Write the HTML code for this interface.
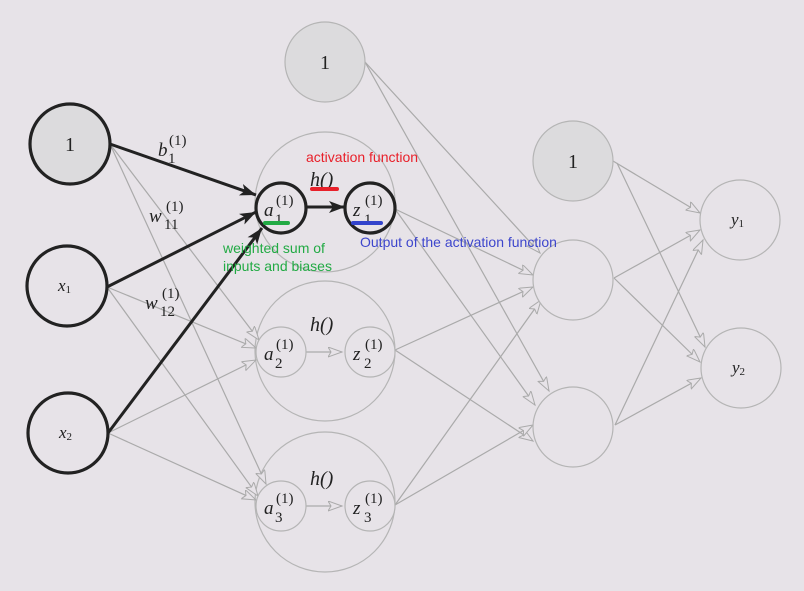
<!DOCTYPE html>
<html><head><meta charset="utf-8"><style>
html,body{margin:0;padding:0;background:#e7e3e8;}
svg{display:block}
.m{font-family:"Liberation Serif",serif;font-style:italic;fill:#222}
.n{font-family:"Liberation Serif",serif;fill:#222}
.s{font-family:"Liberation Sans",sans-serif;font-size:14px}
</style></head><body>
<svg width="804" height="591" viewBox="0 0 804 591" xmlns="http://www.w3.org/2000/svg">
<defs>
<marker id="g" markerUnits="userSpaceOnUse" markerWidth="16" markerHeight="12" refX="14" refY="5" orient="auto">
<path d="M0,0 L14,5 L0,10 L3,5 Z" fill="#e7e3e8" stroke="#aaa" stroke-width="1"/>
</marker>
<marker id="k" markerUnits="userSpaceOnUse" markerWidth="18" markerHeight="14" refX="16" refY="6" orient="auto">
<path d="M0,0 L16,6 L0,12 L4,6 Z" fill="#222"/>
</marker>
</defs>
<rect width="804" height="591" fill="#e7e3e8"/>
<g fill="none" stroke="#b5b5b5" stroke-width="1.2">
<circle cx="325" cy="202" r="70"/>
<circle cx="325" cy="351" r="70"/>
<circle cx="325" cy="502" r="70"/>
</g>
<g stroke="#aaa" stroke-width="1.2" fill="none" marker-end="url(#g)">
<line x1="110" y1="144" x2="259" y2="340"/>
<line x1="110" y1="144" x2="266" y2="484"/>
<line x1="107" y1="287" x2="256" y2="348"/>
<line x1="107" y1="287" x2="258" y2="496"/>
<line x1="108" y1="433" x2="256" y2="360"/>
<line x1="108" y1="433" x2="256" y2="500"/>
<line x1="306" y1="352" x2="342" y2="352"/>
<line x1="306" y1="506" x2="342" y2="506"/>
<line x1="365" y1="62" x2="540" y2="253"/>
<line x1="365" y1="62" x2="549" y2="391"/>
<line x1="395" y1="209" x2="533" y2="275"/>
<line x1="395" y1="209" x2="535" y2="405"/>
<line x1="395" y1="350" x2="533" y2="287"/>
<line x1="395" y1="350" x2="533" y2="441"/>
<line x1="395" y1="505" x2="541" y2="300"/>
<line x1="395" y1="505" x2="533" y2="425"/>
<line x1="613" y1="161" x2="700" y2="213"/>
<line x1="614" y1="278" x2="700" y2="230"/>
<line x1="615" y1="425" x2="703" y2="240"/>
<line x1="617" y1="163" x2="705" y2="347"/>
<line x1="614" y1="278" x2="700" y2="362"/>
<line x1="615" y1="425" x2="701" y2="378"/>
</g>
<g stroke="#222" stroke-width="3" fill="none" marker-end="url(#k)">
<line x1="110" y1="144" x2="256" y2="195"/>
<line x1="107" y1="287" x2="256" y2="212"/>
<line x1="108" y1="433" x2="262" y2="228"/>
<line x1="306" y1="207" x2="345" y2="207"/>
</g>
<g stroke="#222" stroke-width="3.2">
<circle cx="70" cy="144" r="40" fill="#dcdbdd"/>
<circle cx="67" cy="286" r="40" fill="#e7e3e8"/>
<circle cx="68" cy="433" r="40" fill="#e7e3e8"/>
</g>
<g stroke="#222" stroke-width="3.2" fill="#e7e3e8">
<circle cx="281" cy="208" r="25"/>
<circle cx="370" cy="208" r="25"/>
</g>
<g stroke="#b5b5b5" stroke-width="1.2" fill="#e7e3e8">
<circle cx="281" cy="352" r="25"/>
<circle cx="370" cy="352" r="25"/>
<circle cx="281" cy="506" r="25"/>
<circle cx="370" cy="506" r="25"/>
<circle cx="325" cy="62" r="40" fill="#dcdbdd"/>
<circle cx="573" cy="161" r="40" fill="#dcdbdd"/>
<circle cx="573" cy="280" r="40"/>
<circle cx="573" cy="427" r="40"/>
<circle cx="740" cy="220" r="40"/>
<circle cx="741" cy="368" r="40"/>
</g>
<text class="n" x="70" y="151" font-size="20" text-anchor="middle">1</text>
<text class="n" x="325" y="69" font-size="20" text-anchor="middle">1</text>
<text class="n" x="573" y="168" font-size="20" text-anchor="middle">1</text>
<text class="m" x="58" y="291" font-size="17">x<tspan font-size="11" font-style="normal" dy="2">1</tspan></text>
<text class="m" x="59" y="438" font-size="17">x<tspan font-size="11" font-style="normal" dy="2">2</tspan></text>
<text class="m" x="731" y="225" font-size="17">y<tspan font-size="11" font-style="normal" dy="2">1</tspan></text>
<text class="m" x="732" y="373" font-size="17">y<tspan font-size="11" font-style="normal" dy="2">2</tspan></text>
<g font-size="19">
<text class="m" x="264" y="216">a</text><text class="n" x="276" y="205" font-size="15">(1)</text><text class="n" x="275" y="224" font-size="15">1</text>
<text class="m" x="353" y="216">z</text><text class="n" x="365" y="205" font-size="15">(1)</text><text class="n" x="364" y="224" font-size="15">1</text>
<text class="m" x="264" y="360">a</text><text class="n" x="276" y="349" font-size="15">(1)</text><text class="n" x="275" y="368" font-size="15">2</text>
<text class="m" x="353" y="360">z</text><text class="n" x="365" y="349" font-size="15">(1)</text><text class="n" x="364" y="368" font-size="15">2</text>
<text class="m" x="264" y="514">a</text><text class="n" x="276" y="503" font-size="15">(1)</text><text class="n" x="275" y="522" font-size="15">3</text>
<text class="m" x="353" y="514">z</text><text class="n" x="365" y="503" font-size="15">(1)</text><text class="n" x="364" y="522" font-size="15">3</text>
<text class="m" x="310" y="186" font-size="20">h()</text>
<text class="m" x="310" y="331" font-size="20">h()</text>
<text class="m" x="310" y="485" font-size="20">h()</text>
</g>
<text class="m" x="158" y="156" font-size="19">b</text><text class="n" x="169" y="145" font-size="15">(1)</text><text class="n" x="168" y="163" font-size="15">1</text>
<text class="m" x="149" y="222" font-size="19">w</text><text class="n" x="166" y="211" font-size="15">(1)</text><text class="n" x="164" y="229" font-size="15">11</text>
<text class="m" x="145" y="309" font-size="19">w</text><text class="n" x="162" y="298" font-size="15">(1)</text><text class="n" x="160" y="316" font-size="15">12</text>
<rect x="310" y="187" width="29" height="4" rx="2" fill="#e8202a"/>
<rect x="263" y="221" width="27" height="4" rx="2" fill="#22aa44"/>
<rect x="351" y="221" width="32" height="4" rx="2" fill="#3344cc"/>
<text class="s" x="306" y="162" fill="#e8202a">activation function</text>
<text class="s" x="223" y="253" fill="#22aa44">weighted sum of</text>
<text class="s" x="223" y="271" fill="#22aa44">inputs and biases</text>
<text class="s" x="360" y="247" fill="#3d46cc">Output of  the activation function</text>
</svg>
</body></html>
